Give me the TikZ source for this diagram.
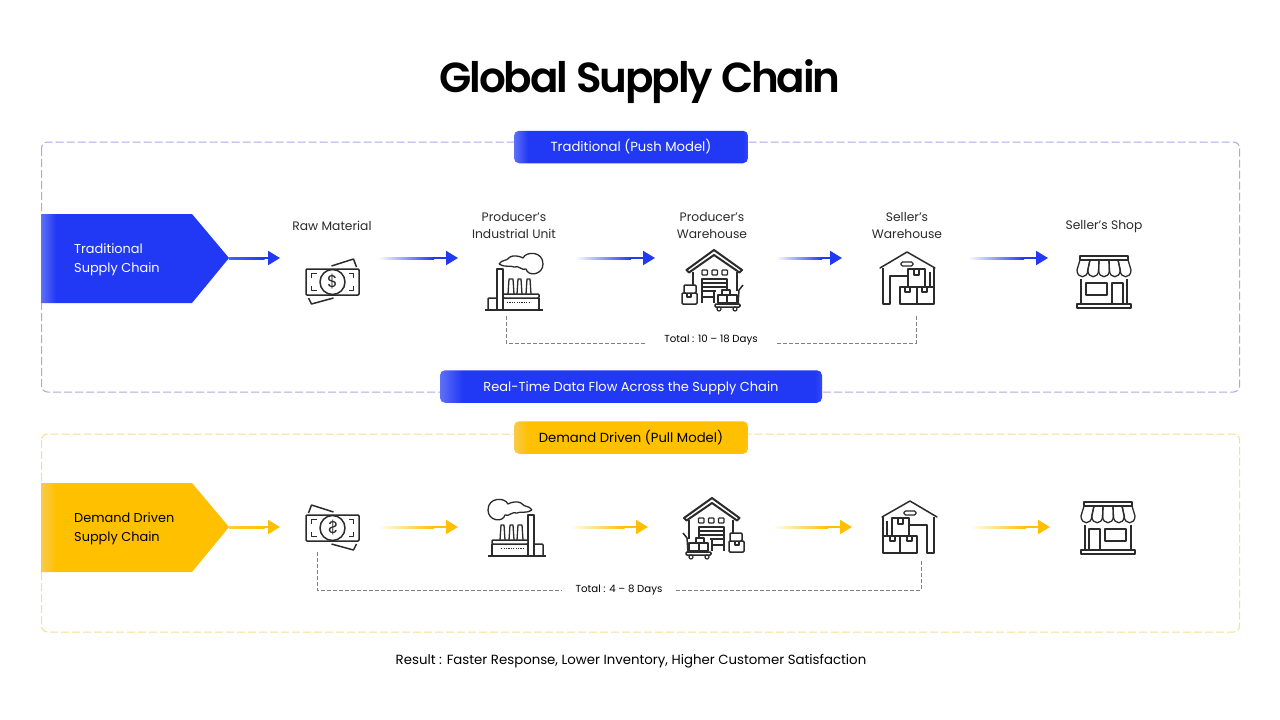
\documentclass[tikz,border=0pt]{standalone}
\usepackage{fontspec}
\setmainfont{Poppins}
\newfontfamily\titlefont[LetterSpace=-5]{Poppins SemiBold}
\usepackage{tikz}
\usetikzlibrary{
  arrows.meta,
  calc}
\definecolor{pushblue}{HTML}{2138F5}
\definecolor{pushfade}{HTML}{5F70F8}
\definecolor{pushedge}{HTML}{ABABE2}
\definecolor{pullamber}{HTML}{FFC000}
\definecolor{pullfade}{HTML}{F8CB4C}
\definecolor{pulledge}{HTML}{F5DE96}
\definecolor{inkgrey}{HTML}{2B2B2B}
\pgfdeclarehorizontalshading{blueband}{100bp}{color(0bp)=(pushfade); color(25bp)=(pushfade); color(28bp)=(pushblue); color(74bp)=(pushblue); color(75bp)=(pushblue!70!pushfade); color(100bp)=(pushblue!70!pushfade)}
\pgfdeclarehorizontalshading{amberband}{100bp}{color(0bp)=(pullfade); color(25bp)=(pullfade); color(28bp)=(pullamber); color(74bp)=(pullamber); color(75bp)=(pullamber!70!pullfade); color(100bp)=(pullamber!70!pullfade)}
\pgfdeclarehorizontalshading{bluechevron}{100bp}{color(0bp)=(pushfade); color(25bp)=(pushfade); color(29bp)=(pushblue); color(100bp)=(pushblue)}
\pgfdeclarehorizontalshading{amberchevron}{100bp}{color(0bp)=(pullfade); color(25bp)=(pullfade); color(29bp)=(pullamber); color(100bp)=(pullamber)}
\newcommand{\flowarrow}[4]{
  \draw[#3,line width=2pt,-{Triangle[length=12pt,width=14pt]}] (#1) -- (#2);
  \shade[left color=#4,right color=#3] ($(#1)+(0,-1)$) rectangle ($(#1)!.7!(#2)+(0,1)$);
}
\begin{document}
\begin{tikzpicture}[x=1pt,y=-1pt]
\tikzset{
  frame/.style={line width=1pt,rounded corners=6pt,dash pattern=on 8pt off 3pt},
  band/.style={shade,rounded corners=5pt,minimum height=32.5pt,inner sep=0pt,text height=11pt,text depth=2pt},
  chevrontext/.style={anchor=west,align=left,inner sep=0pt,font=\fontsize{12.9}{19}\selectfont},
  steplabel/.style={align=center,inner sep=0pt,text=inkgrey,font=\fontsize{12.3}{17}\selectfont},
  totallabel/.style={inner sep=0pt,text=black,font=\fontsize{10.2}{12}\selectfont},
  dayline/.style={draw=black!50,line width=.7pt,dash pattern=on 4pt off 2pt},
  icon/.style={draw=inkgrey,line width=1.5pt,line join=round},
  moneyicon/.pic={
    \draw[icon] (-1,-16) -- (21,-23) -- (24,-15);
    \draw[icon] (-24,16) -- (-21,22) -- (1,16);
    \draw[icon,rounded corners=1pt] (-26.5,-13) rectangle (26.5,13);
    \draw[icon,fill=white] (0,0) circle[radius=12.5pt];
    \foreach \sx/\sy in {-1/-1,1/-1,-1/1,1/1}{\draw[icon,line width=1.2pt] ({\sx*21},{\sy*4}) -- ({\sx*21},{\sy*8.5}) -- ({\sx*16},{\sy*8.5});}
    \node[transform shape,inner sep=0pt,text=inkgrey,font=\fontsize{17}{17}\selectfont] (dollar) at (0,0) {\$};
  },
  factoryicon/.pic={
    \draw[icon] (-29,20) -- (29,20);
    \draw[icon] (-17,20) -- (-17,-21) -- (-11,-21) -- (-11,20);
    \draw[icon] (-26,20) -- (-26,9) .. controls (-26,8) and (-25,8) .. (-24,8) -- (-17,8);
    \foreach \xa/\xb in {-6/0,3/8,12/17}{\draw[icon,line width=1.3pt] (\xa,4) -- ({\xa+1},-11) -- ({\xb-1},-11) -- (\xb,4);}
    \draw[icon,fill=white,rounded corners=1pt] (-11,4) rectangle (25,8);
    \draw[icon] (25,8) -- (25,20);
    \draw[inkgrey,line width=1.3pt,dash pattern=on 1.2pt off 1.2pt] (-7,12.5) -- (17,12.5);
    \draw[icon,line width=1.3pt] (-15,-26) .. controls (-12,-31) and (-8,-28) .. (-4,-33) .. controls (-1,-35) and (6,-34) .. (9,-32) .. controls (12,-39) and (29,-39) .. (29,-26) .. controls (29,-15) and (14,-13) .. (12,-21) .. controls (8,-19) and (5,-25) .. (0,-23) .. controls (-4,-25) and (-8,-22) .. (-15,-26);
  },
  storeicon/.pic={
    \draw[icon,fill=white,line width=2pt] (-27.5,-7) -- (0,-27) -- (28,-7) -- (25.5,-4.5) -- (0,-22) -- (-25,-4.5) -- cycle;
    \draw[icon] (-21,-5) -- (-21,26) (23,-5) -- (23,14);
    \foreach \xa in {-12,-2,8}{\draw[icon,line width=1.3pt,rounded corners=.8pt] (\xa,-7) rectangle ({\xa+5.5},-2);}
    \draw[icon,line width=1.3pt] (-12,26) -- (-12,2) -- (13,2) -- (13,14) (-12,6) -- (13,6) (-12,10) -- (13,10) (-12,14) -- (2,14) (-12,20) -- (0,20) (0,14) -- (0,26);
    \draw[icon,fill=white,rounded corners=1pt] (-32,16) rectangle (-17,27);
    \draw[icon,fill=white,rounded corners=1pt] (-30,8) rectangle (-18,16);
    \draw[icon,line width=1.2pt] (-27,16) -- (-27,20) -- (-23,20) -- (-23,16);
    \draw[icon,fill=white] (8,13) rectangle (16,19);
    \draw[icon,fill=white] (4,18) rectangle (13,26);
    \draw[icon,fill=white] (13,18) rectangle (23,26);
    \draw[icon,fill=white,rounded corners=1pt] (1,27) rectangle (26,30);
    \draw[icon] (24,27) -- (25,13) -- (29,8);
    \draw[icon,fill=white,line width=1.2pt] (5,32) circle[radius=2pt];
    \draw[icon,fill=white,line width=1.2pt] (21,32) circle[radius=2pt];
  },
  depoticon/.pic={
    \draw[icon,line cap=round] (-27,-10) -- (0,-26) -- (28,-10);
    \draw[icon,line width=1.3pt,rounded corners=1.5pt] (-6,-16) rectangle (6,-12);
    \draw[icon] (-24,-10) -- (-24,26) -- (-17,26) -- (-17,-2) -- (1,-2);
    \draw[icon] (23,-6) -- (23,9) (27,-10) -- (27,9);
    \draw[icon,fill=white] (1,-9) rectangle (18,9);
    \draw[icon,fill=white] (-7,9) rectangle (10,26);
    \draw[icon,fill=white] (10,9) rectangle (27,26);
    \draw[icon,line width=1.3pt] (7,-9) -- (7,-3) -- (12,-3) -- (12,-9) (-2,9) -- (-2,14) -- (3,14) -- (3,9) (15,9) -- (15,14) -- (20,14) -- (20,9);
  },
  shopicon/.pic={
    \draw[icon] (-24,-26) rectangle (24,-22);
    \draw[icon] (-23,-3) -- (-23,22) (23,-3) -- (23,22);
    \draw[icon] (-18,1) rectangle (3,13);
    \draw[icon] (8,22) -- (8,1) -- (19,1) -- (19,22);
    \draw[icon,fill=white] (-27,22) rectangle (27,26);
    \foreach \xa/\xb/\ta/\tb in {-27/-16.2/-24/-14,-16.2/-5.4/-14/-5,-5.4/5.4/-5/5,5.4/16.2/5/14,16.2/27/14/24}{\draw[icon,line width=1.3pt] (\ta,-22) -- (\xa,-12) .. controls (\xa,-3) and (\xb,-3) .. (\xb,-12) -- (\tb,-22);}
  }
}
\useasboundingbox (0,0) rectangle (1280,720);
\fill[white] (0,0) rectangle (1280,720);
\node[text=black,font=\fontsize{42}{50}\titlefont] (title) at (640,82) {Global Supply Chain};
\draw[frame,draw=pushedge] (41.5,142) rectangle (1239.5,392);
\draw[frame,draw=pulledge] (41.5,434) rectangle (1239.5,632);
\node[band,shading=blueband,text=white,minimum width=234pt,font=\fontsize{13.2}{16}\selectfont] (pushband) at (631,147) {Traditional (Push Model)};
\node[band,shading=blueband,text=white,minimum width=382pt,font=\fontsize{13}{16}\selectfont] (databand) at (631,386.5) {Real-Time Data Flow Across the Supply Chain};
\node[band,shading=amberband,text=black,minimum width=234pt,font=\fontsize{13.2}{16}\selectfont] (pullband) at (631,437.5) {Demand Driven (Pull Model)};
\shade[shading=bluechevron] (41,214) -- (192,214) -- (229,258) -- (192,303) -- (41,303) -- cycle;
\shade[shading=amberchevron] (41,483) -- (192,483) -- (229,527) -- (192,572) -- (41,572) -- cycle;
\node[chevrontext,text=white] (pushchain) at (74,260) {Traditional\\Supply Chain};
\node[chevrontext,text=black] (pullchain) at (74,529) {Demand Driven\\Supply Chain};
\node[steplabel] (rawlabel) at (332,225.5) {Raw Material};
\node[steplabel] (unitlabel) at (514,226) {Producer’s\\Industrial Unit};
\node[steplabel] (storelabel) at (712,226) {Producer’s\\Warehouse};
\node[steplabel] (depotlabel) at (907,226) {Seller’s\\Warehouse};
\node[steplabel] (shoplabel) at (1104,227) {Seller’s Shop};
\pic at (332.5,282) {moneyicon};
\pic at (514,290) {factoryicon};
\pic at (714,277) {storeicon};
\pic at (907,278) {depoticon};
\pic at (1104,282) {shopicon};
\pic[xscale=-1] at (332.5,528) {moneyicon};
\pic[xscale=-1] at (517,536) {factoryicon};
\pic[xscale=-1] at (712,525) {storeicon};
\pic[xscale=-1] at (910,527) {depoticon};
\pic[xscale=-1] at (1108,528) {shopicon};
\foreach \rowname/\rowy/\xa/\xb/\xc/\xd/\xe/\xf/\xg/\xh in {push/258/378/458/575/655/776/842/968/1048,pull/527/378/458/570/648/772/852/970/1050}{
  \coordinate (\rowname tip) at (229,\rowy);
  \coordinate (\rowname raw) at (280,\rowy);
  \coordinate (\rowname a) at (\xa,\rowy);
  \coordinate (\rowname b) at (\xb,\rowy);
  \coordinate (\rowname c) at (\xc,\rowy);
  \coordinate (\rowname d) at (\xd,\rowy);
  \coordinate (\rowname e) at (\xe,\rowy);
  \coordinate (\rowname f) at (\xf,\rowy);
  \coordinate (\rowname g) at (\xg,\rowy);
  \coordinate (\rowname h) at (\xh,\rowy);
}
\flowarrow{pushtip}{pushraw}{pushblue}{pushblue!80}
\flowarrow{pusha}{pushb}{pushblue}{white}
\flowarrow{pushc}{pushd}{pushblue}{white}
\flowarrow{pushe}{pushf}{pushblue}{white}
\flowarrow{pushg}{pushh}{pushblue}{white}
\flowarrow{pulltip}{pullraw}{pullamber}{pullamber!80}
\flowarrow{pulla}{pullb}{pullamber}{white}
\flowarrow{pullc}{pulld}{pullamber}{white}
\flowarrow{pulle}{pullf}{pullamber}{white}
\flowarrow{pullg}{pullh}{pullamber}{white}
\coordinate (pushfrom) at (506,316);
\coordinate (pushto) at (916,316);
\coordinate (pushgapa) at (645,343);
\coordinate (pushgapb) at (776,343);
\coordinate (pullfrom) at (317,552);
\coordinate (pullto) at (921,561);
\coordinate (pullgapa) at (562,590);
\coordinate (pullgapb) at (675,590);
\draw[dayline] (pushfrom) |- (pushgapa);
\draw[dayline] (pushto) |- (pushgapb);
\draw[dayline] (pullfrom) |- (pullgapa);
\draw[dayline] (pullto) |- (pullgapb);
\node[totallabel] (pushtotal) at (711,340) {Total : 10 – 18 Days};
\node[totallabel] (pulltotal) at (619,590) {Total : 4 – 8 Days};
\node[steplabel,text=black,font=\fontsize{13.3}{16}\selectfont] (result) at (631,661) {Result : Faster Response, Lower Inventory, Higher Customer Satisfaction};
\end{tikzpicture}
\end{document}
